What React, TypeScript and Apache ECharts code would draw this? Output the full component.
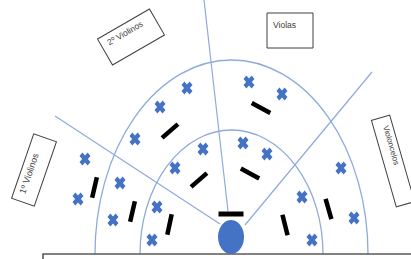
import React, { useEffect, useRef } from "react";
import * as echarts from "echarts";

// Musician positions (chart units = reference pixels, y measured from top)
const crossPoints: number[][] = [
  [187, 88], [249, 82], [160, 107], [282, 94], [135, 139], [203, 149],
  [243, 143], [267, 154], [175, 168], [85, 159], [120, 183], [341, 168],
  [78, 199], [157, 207], [302, 197], [113, 220], [354, 218], [152, 240],
  [312, 240],
];

// Music stands: centre and angle (degrees)
const standPoints: number[][] = [
  [261, 108, -28], [170, 131, 41], [94.5, 187.5, 77], [132.5, 211.5, 77],
  [169.5, 224.5, 78], [199, 180, 41], [250, 173.5, -29], [285, 225, 104],
  [328.5, 209, 106],
];

const conductorStand: number[][] = [[231, 214]];
const podium: number[][] = [[231, 237]];

// Semi-ellipse rows: cx, cy, rx, ry
const rowArcs: number[][] = [
  [231.5, 254, 136.5, 194],
  [231.5, 254, 91.5, 124],
];

// Section dividers
const dividers: number[][][] = [
  [[204, 0], [228, 211]],
  [[55, 116], [220, 224]],
  [[372, 72], [245, 225]],
];

const stageEdge: number[][] = [[43, 262], [43, 254], [411, 254]];

const labelNames: string[] = ["2º Violinos", "Violas", "1º Violinos", "Violoncelos"];
const labelCenters: number[][] = [[131, 37], [290, 30.5], [34, 170], [393, 161]];
const labelAngles: number[] = [30, 0, 71, -74];
const labelBoxes = [
  { w: 60, h: 30, px: 7, py: 4, fs: 8.5 },
  { w: 46, h: 35, px: 6, py: 7, fs: 8.5 },
  { w: 68, h: 24, px: 8, py: 4, fs: 9 },
  { w: 90, h: 19, px: 9, py: 3, fs: 8 },
];

const BLUE = "#4472C4";
const LINE = "#8FAADC";

export default function App() {
  const ref = useRef<HTMLDivElement>(null);
  useEffect(() => {
    if (!ref.current) return;
    const chart = echarts.init(ref.current, null, { renderer: "svg" });
    const option: any = {
      animation: false,
      backgroundColor: "#ffffff",
      grid: { left: 0, right: 0, top: 0, bottom: 0 },
      xAxis: { type: "value", min: 0, max: 411, show: false },
      yAxis: { type: "value", min: 0, max: 259, inverse: true, show: false },
      series: [
        {
          type: "custom",
          z: 1,
          silent: true,
          data: rowArcs,
          renderItem: (params: any, api: any) => {
            const cx = api.value(0), cy = api.value(1), a = api.value(2), b = api.value(3);
            const c = api.coord([cx, cy]);
            const l = api.coord([cx - a, cy]);
            const r = api.coord([cx + a, cy]);
            const t = api.coord([cx, cy - b]);
            const rx = (r[0] - l[0]) / 2;
            const ry = c[1] - t[1];
            const d = `M${l[0]},${c[1]} A${rx},${ry} 0 0 1 ${r[0]},${c[1]}`;
            return {
              type: "path",
              shape: { pathData: d },
              style: { fill: "none", stroke: LINE, lineWidth: 1.3 },
            };
          },
        },
        {
          type: "lines",
          coordinateSystem: "cartesian2d",
          z: 1,
          silent: true,
          lineStyle: { color: LINE, width: 1.2, opacity: 1 },
          data: dividers.map((c) => ({ coords: c })),
        },
        {
          type: "lines",
          coordinateSystem: "cartesian2d",
          polyline: true,
          z: 2,
          silent: true,
          lineStyle: { color: "#595959", width: 1.6, opacity: 1 },
          data: [{ coords: stageEdge }],
        },
        {
          type: "scatter",
          z: 3,
          symbol: "path://M2.6,0L5,2.4L7.4,0L10,2.6L7.6,5L10,7.4L7.4,10L5,7.6L2.6,10L0,7.4L2.4,5L0,2.6Z",
          symbolSize: [11, 13],
          itemStyle: { color: BLUE, opacity: 1 },
          data: crossPoints,
        },
        {
          type: "scatter",
          z: 3,
          symbol: "rect",
          symbolSize: [21, 4.5],
          itemStyle: { color: "#000000", opacity: 1 },
          data: standPoints.map((p) => ({ value: [p[0], p[1]], symbolRotate: p[2] })),
        },
        {
          type: "scatter",
          z: 3,
          symbol: "rect",
          symbolSize: [25, 5],
          itemStyle: { color: "#000000", opacity: 1 },
          data: conductorStand,
        },
        {
          type: "scatter",
          z: 3,
          symbol: "circle",
          symbolSize: [26, 34],
          itemStyle: { color: BLUE, opacity: 1 },
          data: podium,
        },
        {
          type: "custom",
          z: 4,
          silent: true,
          data: labelCenters.map((c, i) => [c[0], c[1], labelAngles[i]]),
          renderItem: (params: any, api: any) => {
            const i = params.dataIndex;
            const box = labelBoxes[i];
            const p = api.coord([api.value(0), api.value(1)]);
            const rot = (api.value(2) * Math.PI) / 180;
            return {
              type: "group",
              x: p[0],
              y: p[1],
              rotation: rot,
              children: [
                {
                  type: "rect",
                  shape: { x: -box.w / 2, y: -box.h / 2, width: box.w, height: box.h },
                  style: { fill: "#ffffff", stroke: "#404040", lineWidth: 1 },
                },
                {
                  type: "text",
                  x: -box.w / 2 + box.px,
                  y: -box.h / 2 + box.py,
                  style: {
                    text: labelNames[i],
                    fill: "#404040",
                    font: `${box.fs}px "Liberation Sans", sans-serif`,
                    align: "left",
                    verticalAlign: "top",
                  },
                },
              ],
            };
          },
        },
      ],
    };
    chart.setOption(option);
    return () => chart.dispose();
  }, []);
  return (
    <div
      ref={ref}
      style={{ position: "absolute", left: 0, top: 0, width: 411, height: 259, background: "#fff" }}
    />
  );
}
